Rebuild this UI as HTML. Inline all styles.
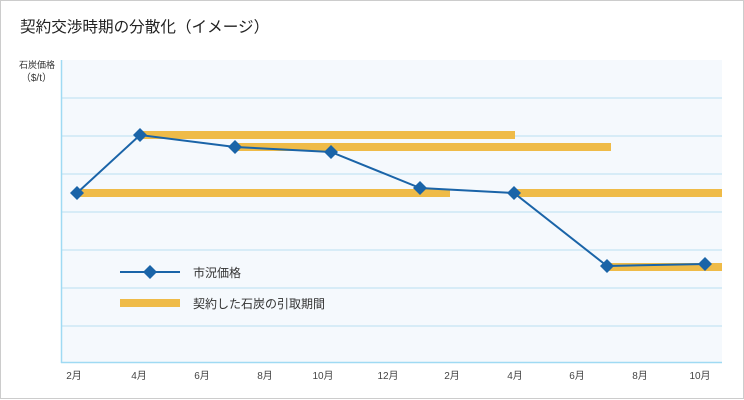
<!DOCTYPE html>
<html><head><meta charset="utf-8"><style>
body{margin:0;background:#fff;}
svg{display:block;font-family:"Liberation Sans","Noto Sans CJK JP",sans-serif;}
</style></head><body>
<svg width="744" height="400" viewBox="0 0 744 400">
<rect x="0.5" y="0.5" width="743" height="398" fill="#fff" stroke="#ccc"/>
<text x="20" y="32" font-size="15.6" fill="#222">契約交渉時期の分散化（イメージ）</text>
<text x="55" y="68" font-size="9" fill="#333" text-anchor="end">石炭価格</text>
<text x="52" y="81" font-size="10" fill="#333" text-anchor="end">（$/t）</text>
<rect x="61" y="60" width="661" height="302" fill="#f5f9fd"/>
<g stroke="#cde8f5" stroke-width="1.5">
<line x1="61" x2="722" y1="98" y2="98"/><line x1="61" x2="722" y1="136" y2="136"/>
<line x1="61" x2="722" y1="174" y2="174"/><line x1="61" x2="722" y1="212" y2="212"/>
<line x1="61" x2="722" y1="250" y2="250"/><line x1="61" x2="722" y1="288" y2="288"/>
<line x1="61" x2="722" y1="326" y2="326"/>
</g>
<line x1="61.5" y1="60" x2="61.5" y2="363" stroke="#9fdaf3" stroke-width="1.5"/>
<line x1="61" y1="362.5" x2="722" y2="362.5" stroke="#9fdaf3" stroke-width="1.5"/>
<g fill="#efbb48">
<rect x="140" y="131" width="375" height="8"/>
<rect x="235" y="143" width="376" height="8"/>
<rect x="77" y="189" width="373" height="8"/>
<rect x="514" y="189" width="208" height="8"/>
<rect x="607" y="263" width="115" height="8"/>
<rect x="120" y="299" width="60" height="8"/>
</g>
<polyline points="77,193 140,135 235,147 331,152 420,188 514,193 607,266 705,264" fill="none" stroke="#1a64a8" stroke-width="2"/>
<line x1="120" y1="272" x2="180" y2="272" stroke="#1a64a8" stroke-width="2"/>
<g fill="#1a64a8">
<path d="M77,186l7,7l-7,7l-7,-7z"/><path d="M140,128l7,7l-7,7l-7,-7z"/>
<path d="M235,140l7,7l-7,7l-7,-7z"/><path d="M331,145l7,7l-7,7l-7,-7z"/>
<path d="M420,181l7,7l-7,7l-7,-7z"/><path d="M514,186l7,7l-7,7l-7,-7z"/>
<path d="M607,259l7,7l-7,7l-7,-7z"/><path d="M705,257l7,7l-7,7l-7,-7z"/>
<path d="M150,265l7,7l-7,7l-7,-7z"/>
</g>
<text x="193" y="277" font-size="12" fill="#333">市況価格</text>
<text x="193" y="308" font-size="12" fill="#333">契約した石炭の引取期間</text>
<g font-size="10" fill="#444" text-anchor="middle">
<text x="74" y="379">2月</text><text x="139" y="379">4月</text><text x="202" y="379">6月</text>
<text x="265" y="379">8月</text><text x="323" y="379">10月</text><text x="388" y="379">12月</text>
<text x="452" y="379">2月</text><text x="515" y="379">4月</text><text x="577" y="379">6月</text>
<text x="640" y="379">8月</text><text x="700" y="379">10月</text>
</g>
</svg>
</body></html>
